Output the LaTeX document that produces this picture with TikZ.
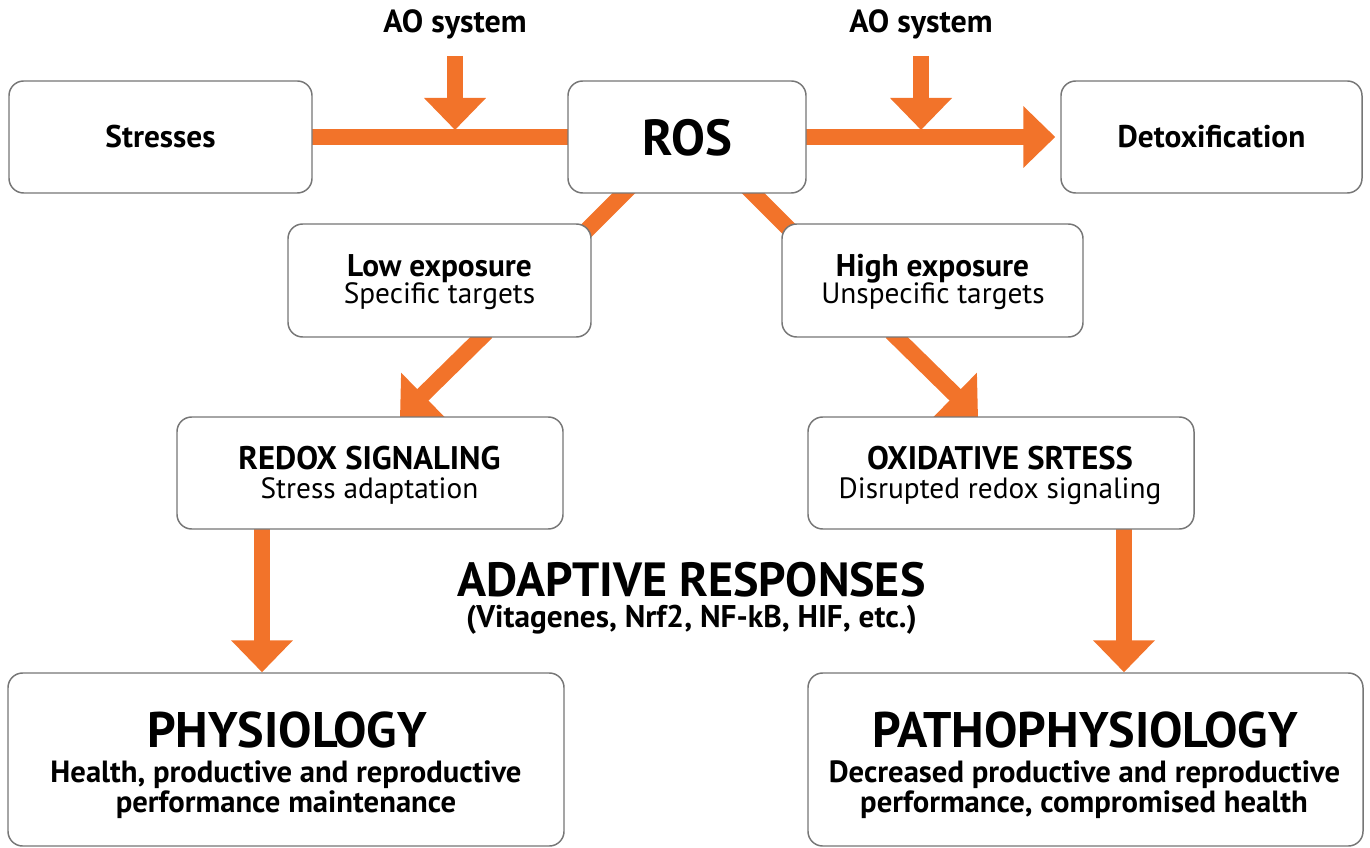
\documentclass[tikz,border=0pt]{standalone}
\usepackage{fontspec}
\setmainfont{PT Sans}
\usetikzlibrary{arrows.meta,calc,backgrounds}
\definecolor{org}{RGB}{242,115,42}
\definecolor{edgegray}{RGB}{118,118,118}
\tikzset{
  box/.style={draw=edgegray, line width=1.1pt, rounded corners=11pt, fill=white,
    align=center, inner sep=0pt},
  sz/.style 2 args={minimum width=#1*0.75pt, minimum height=#2*0.75pt},
  bar/.style={draw=org, line width=12pt},
  arr/.style={bar, -{Triangle[width=45pt,length=24pt]}},
  txt/.style={inner sep=0pt, anchor=base},
  lbl/.style={txt, font=\bfseries\fontsize{24pt}{26pt}\selectfont},
  head/.style={txt, font=\bfseries\fontsize{23.5pt}{26pt}\selectfont},
  capshead/.style={txt, font=\bfseries\fontsize{24.5pt}{26pt}\selectfont},
  sub/.style={txt, font=\fontsize{22pt}{24pt}\selectfont},
  bigcap/.style={txt, font=\bfseries\fontsize{37.5pt}{40pt}\selectfont},
  bigsub/.style={txt, font=\bfseries\fontsize{23pt}{25pt}\selectfont},
}
\begin{document}
\begin{tikzpicture}[x=0.75pt,y=-0.75pt]
\useasboundingbox (0,0) rectangle (1370,848);
% boxes
\node[box, sz={303}{112}] (stress) at (160.5,137) {};
\node[box, sz={238}{112}] (ros) at (687,137) {};
\node[box, sz={301}{112}] (detox) at (1211.5,137) {};
\node[box, sz={303}{113}] (low) at (439.5,280.5) {};
\node[box, sz={301}{113}] (high) at (932.5,280.5) {};
\node[box, sz={386}{112}] (redox) at (370,473) {};
\node[box, sz={386}{112}] (oxid) at (1001,473) {};
\node[box, sz={556}{173}] (phys) at (286,759.5) {};
\node[box, sz={555}{173}] (patho) at (1085.5,759.5) {};
% texts
\node[head] (tstress) at (160.5,148) {Stresses};
\node[txt, font=\bfseries\fontsize{38pt}{40pt}\selectfont] (tros) at (687,156) {ROS};
\node[head] (tdetox) at (1211.5,148) {Detoxification};
\node[lbl] (ao1) at (455,33) {AO system};
\node[lbl] (ao2) at (921,33) {AO system};
\node[head] (tlow1) at (439.5,277) {Low exposure};
\node[sub] (tlow2) at (439.5,304) {Specific targets};
\node[head] (thigh1) at (932.5,277) {High exposure};
\node[sub] (thigh2) at (933,304) {Unspecific targets};
\node[capshead] (tredox1) at (369.5,469) {REDOX SIGNALING};
\node[sub] (tredox2) at (369.5,498) {Stress adaptation};
\node[capshead] (toxid1) at (1000,469) {OXIDATIVE SRTESS};
\node[sub] (toxid2) at (1000,498) {Disrupted redox signaling};
\node[inner sep=0pt, align=center, font=\bfseries\fontsize{23.5pt}{23.25pt}\selectfont] (adapt) at (691.5,598)
  {{\fontsize{36pt}{23.25pt}\selectfont ADAPTIVE RESPONSES}\\(Vitagenes, Nrf2, NF-kB, HIF, etc.)};
\node[bigcap] (tphys1) at (287,747) {PHYSIOLOGY};
\node[bigsub] (tphys2) at (286,782) {Health, productive and reproductive};
\node[bigsub] (tphys3) at (286,812) {performance maintenance};
\node[bigcap] (tpatho1) at (1085,747) {PATHOPHYSIOLOGY};
\node[bigsub] (tpatho2) at (1084.5,782) {Decreased productive and reproductive};
\node[bigsub] (tpatho3) at (1084,812) {performance, compromised health};
% connector end points for the AO system inputs
\coordinate (ao1t) at (455,56);
\coordinate (ao1b) at (455,130);
\coordinate (ao2t) at (921,56);
\coordinate (ao2b) at (921,130);
% connectors
\begin{scope}[on background layer]
  \draw[bar, shorten <=-3pt, shorten >=-3pt] (stress.east) -- (ros.west);
  \draw[arr, shorten <=-3pt] (ros.east) -- ($(detox.west)+(-5,0)$);
  \draw[bar, shorten <=-15pt, shorten >=-15pt] ($(ros.south west)+(56,0)$) -- ($(low.north east)+(2,0)$);
  \draw[bar, shorten <=-15pt, shorten >=-15pt] ($(ros.south east)+(-53,0)$) -- ($(high.north west)+(2,0)$);
  \draw[arr, shorten <=-6pt] ($(low.south)+(41.5,0)$) -- ($(redox.north)+(30,1)$);
  \draw[arr, shorten <=-6pt] ($(high.south)+(-35.5,0)$) -- ($(oxid.north)+(-23,1)$);
  \draw[arr, shorten <=-3pt] ($(redox.south)+(-108,0)$) -- ($(phys.north)+(-24,0)$);
  \draw[arr, shorten <=-3pt] ($(oxid.south)+(123,0)$) -- ($(patho.north)+(38.5,0)$);
\end{scope}
\draw[arr] (ao1t) -- (ao1b);
\draw[arr] (ao2t) -- (ao2b);
\end{tikzpicture}
\end{document}
